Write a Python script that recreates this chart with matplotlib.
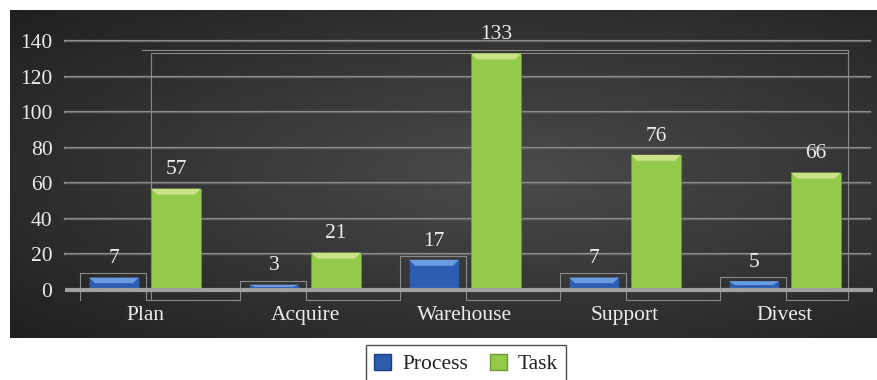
import numpy as np
import matplotlib
matplotlib.use('Agg')
import matplotlib.pyplot as plt
from matplotlib.patches import Patch, Polygon

categories = ['Plan', 'Acquire', 'Warehouse', 'Support', 'Divest']
process = [7, 3, 17, 7, 5]
task = [57, 21, 133, 76, 66]
yticks = [0, 20, 40, 60, 80, 100, 120, 140]

FONT = 'Liberation Serif'
FS = 15.5
TXT = '#ececec'
BLUE = '#2d5db0'
BLUE_TOP = '#6b9be0'
GREEN = '#94c94c'
GREEN_TOP = '#c9e385'

W, H = 878, 380
fig = plt.figure(figsize=(W / 100, H / 100), dpi=100)
fig.patch.set_facecolor('white')

# dark gradient panel
bg = fig.add_axes([10 / W, (H - 338) / H, 868 / W, 328 / H])
yy, xx = np.mgrid[0:1:200j, 0:1:400j]
r = np.sqrt(((xx - 0.58) / 0.85) ** 2 + ((yy - 0.5) / 0.8) ** 2)
r = np.clip(r, 0, 1)
c0 = np.array([0x4b, 0x4b, 0x4b]) / 255
c1 = np.array([0x1c, 0x1c, 0x1c]) / 255
img = c0[None, None, :] * (1 - r[..., None]) + c1[None, None, :] * r[..., None]
bg.imshow(img, aspect='auto', extent=[0, 1, 0, 1])
bg.set_axis_off()

# plot axes: value 0 at y=290px, 140 at y=41px
ppu = (290 - 41) / 140
ylo, yhi = -5, 150
bottom = 290 + (-ylo) * ppu
top = 290 - yhi * ppu
ax = fig.add_axes([65 / W, (H - bottom) / H, 800 / W, (bottom - top) / H])
ax.set_facecolor('none')
ax.set_xlim(-0.5, 4.5)
ax.set_ylim(ylo, yhi)

for t in yticks[1:]:
    ax.plot([-0.5, 4.53], [t, t], color='#8c8c8c', lw=1.6, zorder=1, clip_on=False)
    ax.plot([-0.5, 4.53], [t, t], color='#555555', lw=0.5, zorder=1, clip_on=False)

x = np.arange(len(categories))
off = 31 / 160
bw = 50 / 160

# faint reflection outlines
ln = dict(color='#8a8a8a', lw=0.8, zorder=1, clip_on=False)
ylow = -5.6
xs, ys = [x[0] - off - bw / 2 - 9 / 160], [ylow]
for i, v in enumerate(process):
    l = x[i] - off - bw / 2 - 9 / 160
    rr = x[i] - off + bw / 2 + 7 / 160
    xs += [l, l, rr, rr]
    ys += [ylow, v + 2.3, v + 2.3, ylow]
right = x[-1] + off + bw / 2 + 7 / 160
xs += [right, right]
ys += [ylow, 135]
ax.plot(xs, ys, **ln)
lft = x[0] + off - bw / 2
ax.plot([lft, lft, right], [ylow, 133.5, 133.5], **ln)
ax.plot([lft - 9 / 160, right], [135, 135], **ln)

b1 = ax.bar(x - off, process, bw, color=BLUE, edgecolor='#1d3f80', lw=0.6, zorder=3)
b2 = ax.bar(x + off, task, bw, color=GREEN, edgecolor='#6f9a33', lw=0.6, zorder=3)

# bevel on top of each bar
dx, dy = 6 / 160, 6 / ppu
for bars, col in ((b1, BLUE_TOP), (b2, GREEN_TOP)):
    for b in bars:
        x0, w, h = b.get_x(), b.get_width(), b.get_height()
        d = min(dy, h * 0.45)
        ax.add_patch(Polygon([(x0, h), (x0 + w, h), (x0 + w - dx, h - d), (x0 + dx, h - d)],
                             closed=True, color=col, zorder=4, lw=0))

ax.plot([-0.5, 4.55], [0, 0], color='#a0a0a0', lw=3, zorder=5, clip_on=False, solid_capstyle='butt')

for i in range(len(categories)):
    ax.text(x[i] - off, process[i] + 5.2, str(process[i]), ha='center', va='bottom',
            color=TXT, fontsize=FS, family=FONT, zorder=6)
    ax.text(x[i] + off, task[i] + 5.2, str(task[i]), ha='center', va='bottom',
            color=TXT, fontsize=FS, family=FONT, zorder=6, clip_on=False)

ax.set_xticks(x)
ax.set_xticklabels(categories, fontsize=FS, family=FONT, color=TXT)
ax.set_yticks(yticks)
ax.set_yticklabels([str(t) for t in yticks], fontsize=FS, family=FONT, color=TXT)
ax.tick_params(axis='both', length=0)
ax.tick_params(axis='x', pad=5)
ax.tick_params(axis='y', pad=9)
for s in ax.spines.values():
    s.set_visible(False)

handles = [Patch(facecolor=BLUE, edgecolor='#1d3f80', label='Process'),
           Patch(facecolor=GREEN, edgecolor='#6f9a33', label='Task')]
leg = fig.legend(handles=handles, loc='upper center', bbox_to_anchor=(466 / W, (H - 345) / H),
                 ncol=2, frameon=True, fancybox=False, prop={'family': FONT, 'size': FS},
                 handlelength=0.8, handleheight=0.8, handletextpad=0.5, columnspacing=1.0,
                 borderpad=0.4, borderaxespad=0)
leg.get_frame().set_edgecolor('#222222')
leg.get_frame().set_linewidth(1.0)
for t in leg.get_texts():
    t.set_color('#222222')

fig.savefig('out.png', dpi=100, facecolor='white')
